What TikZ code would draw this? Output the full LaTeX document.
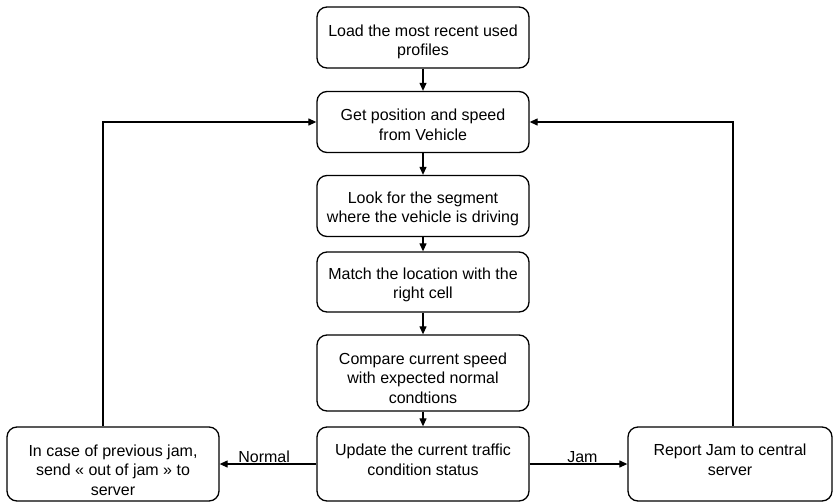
\documentclass[tikz,border=0pt]{standalone}
\usepackage{fontspec}
\setmainfont{Liberation Sans}
\usetikzlibrary{arrows.meta}
\begin{document}
\begin{tikzpicture}[x=1pt,y=-1pt,
  box/.style={draw, line width=1.3pt, rounded corners=10pt, minimum width=212pt},
  txt/.style={align=center, inner sep=0pt, font=\fontsize{16}{19.5}\selectfont},
  conn/.style={line width=1.2pt, -{Triangle[length=8pt,width=7pt]}},
  lbl/.style={font=\fontsize{16}{19}\selectfont, inner sep=0.5pt, anchor=south, pos=0.54}]
\useasboundingbox (0,0) rectangle (834,503);
\node[box, minimum height=61pt] (b1) at (423,37.5) {};
\node[box, minimum height=61pt] (b2) at (423,122) {};
\node[box, minimum height=61pt] (b3) at (423,206) {};
\node[box, minimum height=60pt] (b4) at (423,282) {};
\node[box, minimum height=76pt] (b5) at (423,373) {};
\node[box, minimum height=74pt] (b6) at (423,464) {};
\node[box, minimum height=74pt] (bl) at (113,464) {};
\node[box, minimum width=204pt, minimum height=74pt] (br) at (730,464) {};
\node[txt] (t1) at (423,42) {Load the most recent used\\profiles};
\node[txt] (t2) at (423,125) {Get position and speed\\from Vehicle};
\node[txt] (t3) at (423,209) {Look for the segment\\where the vehicle is driving};
\node[txt] (t4) at (423,285) {Match the location with the\\right cell};
\node[txt] (t5) at (423,378) {Compare current speed\\with expected normal\\condtions};
\node[txt] (t6) at (423,460) {Update the current traffic\\condition status};
\node[txt] (tl) at (113,470) {In case of previous jam,\\send « out of jam » to\\server};
\node[txt] (tr) at (730,460) {Report Jam to central\\server};
\coordinate (lc) at (103,122);
\coordinate (rc) at (733,122);
\draw[conn] (b1) -- (b2);
\draw[conn] (b2) -- (b3);
\draw[conn] (b3) -- (b4);
\draw[conn] (b4) -- (b5);
\draw[conn] (b5) -- (b6);
\draw[conn] (b6) -- node[lbl] {Normal} (bl);
\draw[conn] (b6) -- node[lbl] {Jam} (br);
\draw[conn] (bl.north -| lc) -- (lc) -- (b2);
\draw[conn] (br.north -| rc) -- (rc) -- (b2);
\end{tikzpicture}
\end{document}
